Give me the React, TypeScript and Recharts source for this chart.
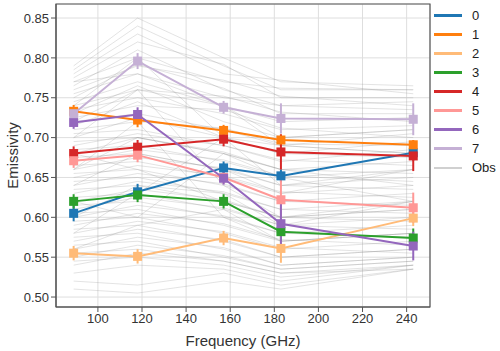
import React from "react";
import {
  LineChart, Line, XAxis, YAxis, CartesianGrid, ErrorBar, ReferenceArea,
} from "recharts";

const freqs = [89, 118, 157, 183, 243];
const xTicks = [100, 120, 140, 160, 180, 200, 220, 240];
const yTicks = [0.5, 0.55, 0.6, 0.65, 0.7, 0.75, 0.8, 0.85];

const classNames = ["0", "1", "2", "3", "4", "5", "6", "7"];
const colors = ["#1f77b4", "#ff7f0e", "#ffbb78", "#2ca02c", "#d62728", "#ff9896", "#9467bd", "#c5b0d5"];

const c0 = [0.605, 0.632, 0.662, 0.652, 0.681];
const c1 = [0.733, 0.722, 0.709, 0.697, 0.691];
const c2 = [0.555, 0.551, 0.574, 0.561, 0.599];
const c3 = [0.620, 0.628, 0.620, 0.582, 0.574];
const c4 = [0.680, 0.688, 0.698, 0.682, 0.677];
const c5 = [0.671, 0.678, 0.650, 0.622, 0.612];
const c6 = [0.719, 0.729, 0.649, 0.592, 0.564];
const c7 = [0.730, 0.796, 0.738, 0.724, 0.723];
const means = [c0, c1, c2, c3, c4, c5, c6, c7];

const e0 = [0.010, 0.010, 0.008, 0.008, 0.010];
const e1 = [0.008, 0.009, 0.007, 0.007, 0.006];
const e2 = [0.009, 0.009, 0.009, 0.018, 0.010];
const e3 = [0.009, 0.009, 0.009, 0.012, 0.012];
const e4 = [0.009, 0.009, 0.009, 0.022, 0.019];
const e5 = [0.009, 0.009, 0.008, 0.028, 0.019];
const e6 = [0.008, 0.009, 0.008, 0.030, 0.018];
const e7 = [0.005, 0.010, 0.008, 0.019, 0.020];
const errs = [e0, e1, e2, e3, e4, e5, e6, e7];

// individual observed spectra (grey background)
const obs = [
  [0.79, 0.85, 0.80, 0.77, 0.765],
  [0.785, 0.84, 0.79, 0.76, 0.76],
  [0.78, 0.83, 0.78, 0.772, 0.755],
  [0.775, 0.82, 0.792, 0.75, 0.75],
  [0.77, 0.80, 0.77, 0.762, 0.76],
  [0.765, 0.81, 0.76, 0.74, 0.745],
  [0.76, 0.79, 0.772, 0.752, 0.74],
  [0.755, 0.78, 0.75, 0.74, 0.735],
  [0.75, 0.792, 0.762, 0.73, 0.73],
  [0.745, 0.77, 0.74, 0.72, 0.725],
  [0.74, 0.76, 0.752, 0.732, 0.72],
  [0.735, 0.75, 0.73, 0.71, 0.715],
  [0.73, 0.765, 0.72, 0.70, 0.71],
  [0.725, 0.74, 0.735, 0.712, 0.70],
  [0.72, 0.73, 0.71, 0.69, 0.705],
  [0.715, 0.745, 0.70, 0.68, 0.695],
  [0.71, 0.72, 0.712, 0.692, 0.69],
  [0.705, 0.71, 0.69, 0.67, 0.685],
  [0.70, 0.725, 0.70, 0.68, 0.675],
  [0.695, 0.70, 0.68, 0.66, 0.67],
  [0.69, 0.705, 0.69, 0.672, 0.665],
  [0.685, 0.69, 0.67, 0.65, 0.66],
  [0.68, 0.70, 0.682, 0.66, 0.655],
  [0.675, 0.68, 0.66, 0.64, 0.65],
  [0.67, 0.685, 0.672, 0.652, 0.645],
  [0.665, 0.67, 0.65, 0.63, 0.64],
  [0.66, 0.675, 0.662, 0.64, 0.635],
  [0.655, 0.66, 0.64, 0.62, 0.63],
  [0.65, 0.665, 0.652, 0.632, 0.625],
  [0.645, 0.65, 0.63, 0.61, 0.62],
  [0.64, 0.655, 0.642, 0.62, 0.615],
  [0.635, 0.64, 0.62, 0.60, 0.61],
  [0.63, 0.645, 0.632, 0.61, 0.605],
  [0.625, 0.63, 0.61, 0.59, 0.60],
  [0.62, 0.635, 0.622, 0.60, 0.595],
  [0.615, 0.62, 0.60, 0.58, 0.59],
  [0.61, 0.625, 0.612, 0.59, 0.585],
  [0.605, 0.61, 0.59, 0.57, 0.58],
  [0.60, 0.615, 0.602, 0.58, 0.575],
  [0.595, 0.60, 0.58, 0.56, 0.57],
  [0.59, 0.605, 0.592, 0.572, 0.565],
  [0.585, 0.59, 0.57, 0.55, 0.56],
  [0.58, 0.595, 0.582, 0.562, 0.555],
  [0.575, 0.58, 0.56, 0.54, 0.55],
  [0.57, 0.585, 0.572, 0.55, 0.56],
  [0.565, 0.57, 0.55, 0.535, 0.545],
  [0.56, 0.575, 0.562, 0.54, 0.55],
  [0.555, 0.56, 0.545, 0.53, 0.54],
  [0.55, 0.565, 0.552, 0.535, 0.545],
  [0.545, 0.55, 0.54, 0.525, 0.54],
  [0.54, 0.555, 0.545, 0.53, 0.535],
  [0.53, 0.54, 0.535, 0.52, 0.54],
  [0.52, 0.515, 0.53, 0.515, 0.535],
  [0.51, 0.505, 0.52, 0.51, 0.535],
  [0.70, 0.76, 0.64, 0.60, 0.62],
  [0.62, 0.60, 0.68, 0.66, 0.64],
  [0.74, 0.80, 0.70, 0.64, 0.66],
  [0.58, 0.63, 0.70, 0.69, 0.68],
  [0.66, 0.72, 0.60, 0.57, 0.58],
  [0.77, 0.78, 0.74, 0.70, 0.71],
  [0.68, 0.66, 0.62, 0.60, 0.61],
  [0.64, 0.68, 0.66, 0.63, 0.66],
  [0.60, 0.64, 0.63, 0.59, 0.62],
  [0.72, 0.76, 0.74, 0.69, 0.68],
  [0.56, 0.59, 0.61, 0.57, 0.58],
  [0.66, 0.70, 0.68, 0.65, 0.62],
];

const data = freqs.map((f, i) => {
  const row: Record<string, number> = { freq: f };
  means.forEach((m, k) => { row["s" + k] = m[i]; row["e" + k] = errs[k][i]; });
  obs.forEach((o, k) => { row["o" + k] = o[i]; });
  return row;
});

const font = "'Liberation Sans', Arial, sans-serif";

function squareDot(color: string) {
  return (p: any) => (
    <rect key={"d" + p.index} x={p.cx - 4.5} y={p.cy - 4.5} width={9} height={9} fill={color} />
  );
}

export default function App() {
  return (
    <div style={{ position: "absolute", left: 0, top: 0, width: 500, height: 351, background: "#fff", fontFamily: font }}>
      <LineChart width={500} height={351} data={data} margin={{ top: 4, right: 70, bottom: 0, left: 0 }}>
        <CartesianGrid stroke="#dedede" strokeWidth={1} />
        <XAxis
          dataKey="freq" type="number" domain={[81, 250.6]} ticks={xTicks} allowDataOverflow
          tick={{ fill: "#333", fontSize: 13, fontFamily: font }} tickSize={5} tickMargin={2}
          stroke="#555" height={44}
          label={{ value: "Frequency (GHz)", position: "insideBottom", offset: 5, fill: "#333", fontSize: 15, fontFamily: font }}
        />
        <YAxis
          type="number" domain={[0.4875, 0.8676]} ticks={yTicks} allowDataOverflow
          tickFormatter={(v: number) => v.toFixed(2)}
          tick={{ fill: "#333", fontSize: 13, fontFamily: font }} tickSize={5} tickMargin={2}
          stroke="#555" width={56}
          label={{ value: "Emissivity", angle: -90, position: "insideLeft", offset: 13, fill: "#333", fontSize: 15, fontFamily: font, style: { textAnchor: "middle" } }}
        />
        {obs.map((_, k) => (
          <Line key={"o" + k} dataKey={"o" + k} stroke="#8a8a8a" strokeOpacity={0.24} strokeWidth={1}
            dot={false} activeDot={false} isAnimationActive={false} />
        ))}
        {means.map((_, k) => (
          <Line key={"s" + k} dataKey={"s" + k} stroke={colors[k]} strokeWidth={2}
            dot={squareDot(colors[k])} activeDot={false} isAnimationActive={false}>
            <ErrorBar dataKey={"e" + k} direction="y" width={0} stroke={colors[k]} strokeWidth={2} isAnimationActive={false} />
          </Line>
        ))}
        <ReferenceArea x1={81} x2={250.6} y1={0.4875} y2={0.8676} fill="none" stroke="#555" strokeWidth={1.2} ifOverflow="visible" />
      </LineChart>
      <div style={{ position: "absolute", left: 434, top: 6 }}>
        {classNames.concat(["Obs"]).map((n, k) => (
          <div key={n} style={{ display: "flex", alignItems: "center", height: 19 }}>
            <div style={{ width: 28, height: k < 8 ? 3 : 2, background: k < 8 ? colors[k] : "#d0d0d0" }} />
            <span style={{ marginLeft: 10, fontSize: 13, color: "#222" }}>{n}</span>
          </div>
        ))}
      </div>
    </div>
  );
}
